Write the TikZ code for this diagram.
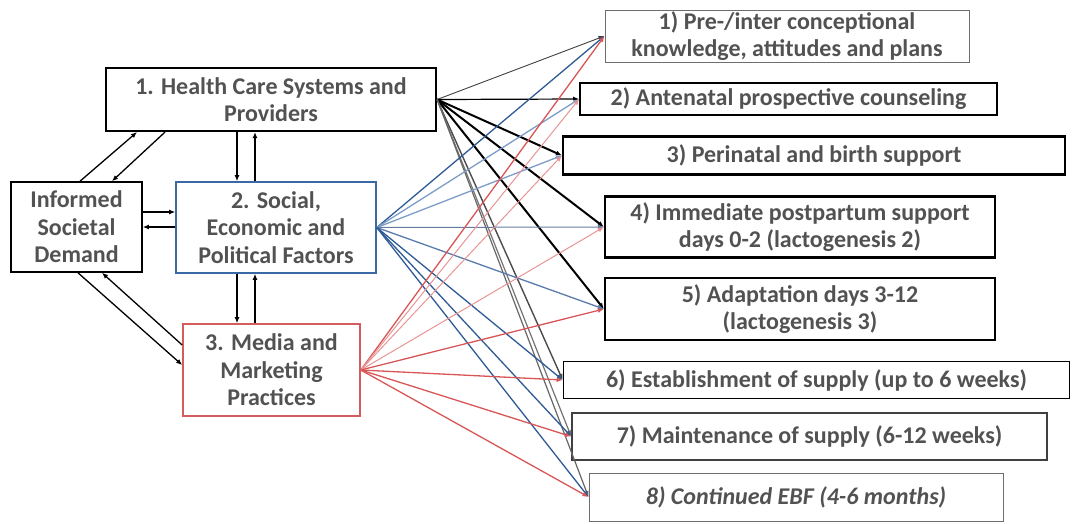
\documentclass[tikz,border=0pt]{standalone}
\usepackage{fontspec}
\setmainfont{Carlito}
\usetikzlibrary{calc}
\usetikzlibrary{arrows.meta}

\definecolor{socblue}{HTML}{3C68A4}
\definecolor{medred}{HTML}{D55C5C}
\definecolor{darkblue}{HTML}{2E5A96}
\definecolor{paleblue}{HTML}{7D9CC6}
\definecolor{darkred}{HTML}{D85656}
\definecolor{palered}{HTML}{E89494}
\definecolor{boxgray}{HTML}{6E6E6E}

\begin{document}
\begin{tikzpicture}[x=1pt, y=-1pt, >={Latex[length=6pt,width=5pt]},
  box/.style={draw, rectangle, inner sep=0pt, align=center,
    font=\fontsize{24}{27.5}\selectfont\bfseries, text=black!68},
  link/.style={->, line width=1.3pt}]

\useasboundingbox (0,0) rectangle (1072,523);

% left column
\node[box, line width=2.2pt, minimum width=330pt, minimum height=63pt] (hc) at (271, 99.5) {1. Health Care Systems and\\Providers};
\node[box, line width=1.6pt, minimum width=131pt, minimum height=90pt] (isd) at (76.5, 227) {Informed\\Societal\\Demand};
\node[box, draw=socblue, line width=1.6pt, minimum width=200pt, minimum height=91pt] (soc) at (276, 227.5) {2. Social,\\Economic and\\Political Factors};
\node[box, draw=medred, line width=1.6pt, minimum width=177pt, minimum height=92pt] (med) at (271.5, 370) {3. Media and\\Marketing\\Practices};

% right column
\node[box, draw=boxgray, line width=1pt, minimum width=364pt, minimum height=52pt] (b1) at (787, 36) {1) Pre-/inter conceptional\\knowledge, attitudes and plans};
\node[box, line width=1.6pt, minimum width=417pt, minimum height=32pt] (b2) at (788.5, 99) {2) Antenatal prospective counseling};
\node[box, line width=2.2pt, minimum width=502pt, minimum height=38pt] (b3) at (814, 155.5) {3) Perinatal and birth support};
\node[box, line width=2.2pt, minimum width=390pt, minimum height=61pt] (b4) at (800, 227) {4) Immediate postpartum support\\days 0-2 (lactogenesis 2)};
\node[box, line width=2.2pt, minimum width=390pt, minimum height=62pt] (b5) at (800, 309) {5) Adaptation days 3-12\\(lactogenesis 3)};
\node[box, line width=1.6pt, minimum width=506pt, minimum height=37pt] (b6) at (816.5, 380) {6) Establishment of supply (up to 6 weeks)};
\node[box, draw=black!75, line width=1.6pt, minimum width=475pt, minimum height=47pt] (b7) at (809.5, 436.5) {7) Maintenance of supply (6-12 weeks)};
\node[box, draw=boxgray, line width=1pt, minimum width=414pt, minimum height=48pt] (b8) at (796, 497) {\itshape 8) Continued EBF (4-6 months)};

% arrows between the left boxes
\draw[link] ($(isd.north)+(3.5,0)$) -- ($(hc.south)+(-134,0)$);
\draw[link] ($(hc.south)+(-106,0)$) -- ($(isd.north)+(35.5,0)$);
\draw[link] ($(hc.south)+(-34,0)$) -- ($(soc.north)+(-39,0)$);
\draw[link] ($(soc.north)+(-21,0)$) -- ($(hc.south)+(-16,0)$);
\draw[link] ($(isd.east)+(0,-15)$) -- ($(soc.west)+(0,-15.5)$);
\draw[link] ($(soc.west)+(0,-0.5)$) -- (isd.east);
\draw[link] ($(soc.south)+(-39,0)$) -- ($(med.north)+(-34.5,0)$);
\draw[link] ($(med.north)+(-16.5,0)$) -- ($(soc.south)+(-21,0)$);
\draw[link] ($(isd.south)+(1.5,0)$) -- ($(med.west)+(0,-5)$);
\draw[link] ($(med.west)+(0,-25)$) -- ($(isd.south)+(25.5,0)$);

% health care links
\draw[link, line width=0.9pt, black!75] (hc.east) -- (b1.west);
\draw[link, line width=1.2pt] (hc.east) -- (b2.west);
\draw[link, line width=2pt] (hc.east) -- (b3.west);
\draw[link, line width=2pt] (hc.east) -- (b4.west);
\draw[link, line width=2pt] (hc.east) -- (b5.west);
\draw[link, line width=1.4pt, black!70] (hc.east) -- (b6.west);
\draw[link, line width=1.2pt, black!55] (hc.east) -- (b7.west);
\draw[link, line width=1.2pt, black!60] (hc.east) -- (b8.west);

% social links
\draw[link, darkblue] (soc.east) -- (b1.west);
\draw[link, paleblue] (soc.east) -- (b2.west);
\draw[link, paleblue] (soc.east) -- (b3.west);
\draw[link, line width=1pt, paleblue!80!black] (soc.east) -- (b4.west);
\draw[link, darkblue!80] (soc.east) -- (b5.west);
\draw[link, darkblue] (soc.east) -- (b6.west);
\draw[link, darkblue] (soc.east) -- (b7.west);
\draw[link, darkblue] (soc.east) -- (b8.west);

% media links
\draw[link, darkred] (med.east) -- (b1.west);
\draw[link, line width=1pt, palered] (med.east) -- (b2.west);
\draw[link, line width=1pt, palered] (med.east) -- (b3.west);
\draw[link, line width=1pt, palered] (med.east) -- (b4.west);
\draw[link, darkred] (med.east) -- (b5.west);
\draw[link, darkred] (med.east) -- (b6.west);
\draw[link, darkred] (med.east) -- (b7.west);
\draw[link, darkred] (med.east) -- (b8.west);

\end{tikzpicture}
\end{document}
